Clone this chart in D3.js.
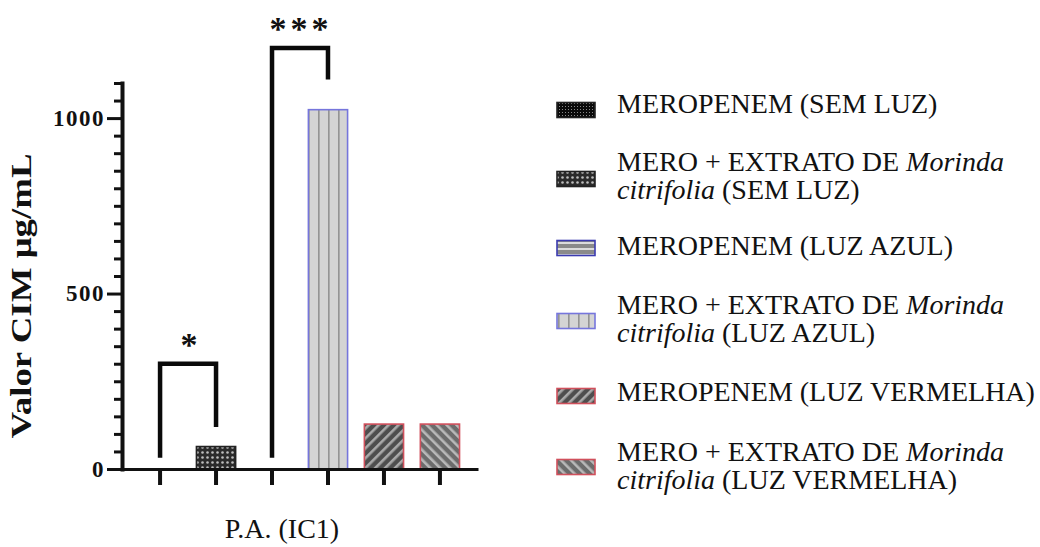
<!DOCTYPE html>
<html><head><meta charset="utf-8">
<script src="https://cdn.jsdelivr.net/npm/d3@7"></script>
<style>body{margin:0;background:#fff}svg{display:block}</style>
</head><body><svg id="c" width="1040" height="547"></svg>
<script>
// ---------------- data ----------------
const categories = ["MEROPENEM (SEM LUZ)", "MERO + EXTRATO (SEM LUZ)", "MEROPENEM (LUZ AZUL)",
  "MERO + EXTRATO (LUZ AZUL)", "MEROPENEM (LUZ VERMELHA)", "MERO + EXTRATO (LUZ VERMELHA)"];
const values = [0, 64, 0, 1024, 128, 128];
const yMajorTicks = [0, 500, 1000];
const yMinorTicks = [50,100,150,200,250,300,350,400,450,550,600,650,700,750,800,850,900,950,1050,1100];
const yMax = 1100;
const xTitle = "P.A. (IC1)";
const yTitle = "Valor CIM μg/mL";
const legendLines = [
  [[["MEROPENEM (SEM LUZ)", false]]],
  [[["MERO + EXTRATO DE ", false], ["Morinda", true]], [["citrifolia", true], [" (SEM LUZ)", false]]],
  [[["MEROPENEM (LUZ AZUL)", false]]],
  [[["MERO + EXTRATO DE ", false], ["Morinda", true]], [["citrifolia", true], [" (LUZ AZUL)", false]]],
  [[["MEROPENEM (LUZ VERMELHA)", false]]],
  [[["MERO + EXTRATO DE ", false], ["Morinda", true]], [["citrifolia", true], [" (LUZ VERMELHA)", false]]]
];
const brackets = [
  {from: 0, to: 1, top: 300, leftEnd: 32, rightEnd: 120, label: "*"},
  {from: 2, to: 3, top: 1200, leftEnd: 32, rightEnd: 1110, label: "***"}
];

// ---------------- styles ----------------
const borderColors = ["#222", "#222", "#3b3bb0", "#7676dc", "#d0505c", "#d0505c"];
const serif = "'Liberation Serif','Times New Roman',serif";

const svg = d3.select("#c");
const defs = svg.append("defs");

const x = d3.scaleBand().domain(d3.range(categories.length)).range([122, 478]).paddingInner(0.3).paddingOuter(0.33);
const y = d3.scaleLinear().domain([0, yMax]).range([469, 83]);

// patterns
function pat(id, w, h, bg, transform) {
  const p = defs.append("pattern").attr("id", id).attr("patternUnits", "userSpaceOnUse")
    .attr("width", w).attr("height", h);
  if (transform) p.attr("patternTransform", transform);
  p.append("rect").attr("width", w).attr("height", h).attr("fill", bg);
  return p;
}
let p = pat("p0", 3, 3, "#0a0a0a");
p.append("rect").attr("x", 1).attr("y", 1).attr("width", 1).attr("height", 1).attr("fill", "#888");
p = pat("p1", 5, 5, "#2a2a2a");
p.append("circle").attr("cx", 2.5).attr("cy", 2.5).attr("r", 1.3).attr("fill", "#bdbdbd");
p = pat("p2", 6, 6, "#8a8a8a");
p.append("rect").attr("y", 2).attr("width", 6).attr("height", 2).attr("fill", "#dcdcdc");
p = pat("p3", 10, 10, "#d4d4d4");
p.attr("x", x(3) + 1);
p.append("rect").attr("x", 9).attr("width", 1.6).attr("height", 10).attr("fill", "#6a6a6a");
p = pat("p4", 7, 7, "#4e4e4e", "rotate(45)");
p.append("rect").attr("x", 0).attr("width", 2.6).attr("height", 7).attr("fill", "#aaaaaa");
p = pat("p5", 7, 7, "#6c6c6c", "rotate(-45)");
p.append("rect").attr("x", 0).attr("width", 2.6).attr("height", 7).attr("fill", "#b8b8b8");

// ---------------- bars ----------------
svg.append("g").selectAll("rect").data(values).join("rect")
  .attr("x", (d, i) => x(i)).attr("width", x.bandwidth())
  .attr("y", d => y(d)).attr("height", d => y(0) - y(d))
  .attr("fill", (d, i) => `url(#p${i})`)
  .attr("stroke", (d, i) => d > 0 ? borderColors[i] : "none")
  .attr("stroke-width", 1.6);

// ---------------- axes ----------------
const yAxisMinor = svg.append("g").attr("transform", "translate(122,0)")
  .call(d3.axisLeft(y).tickValues(yMinorTicks).tickSize(8).tickSizeOuter(0).tickFormat(""));
yAxisMinor.select(".domain").remove();
yAxisMinor.selectAll("line").attr("stroke", "#111").attr("stroke-width", 3);

const yAxis = svg.append("g").attr("transform", "translate(122,0)")
  .call(d3.axisLeft(y).tickValues(yMajorTicks).tickSize(15).tickSizeOuter(0).tickPadding(2).tickFormat(d3.format("d")));
yAxis.select(".domain").attr("stroke", "#111").attr("stroke-width", 4).attr("stroke-linecap", "square");
yAxis.selectAll("line").attr("stroke", "#111").attr("stroke-width", 3);
yAxis.selectAll("text").attr("font-family", serif).attr("font-weight", "bold")
  .attr("font-size", 23).attr("letter-spacing", 1.5).attr("fill", "#111");

const xAxis = svg.append("g").attr("transform", `translate(0,${y(0)})`)
  .call(d3.axisBottom(x).tickSize(16).tickSizeOuter(0).tickFormat(""));
xAxis.select(".domain").attr("stroke", "#111").attr("stroke-width", 3);
xAxis.selectAll("line").attr("stroke", "#111").attr("stroke-width", 4);

// ---------------- brackets ----------------
const bx = i => x(i) + x.bandwidth() / 2;
const bg = svg.append("g");
bg.selectAll("path").data(brackets).join("path")
  .attr("d", b => `M${bx(b.from)},${y(b.leftEnd)}V${y(b.top)}H${bx(b.to)}V${y(b.rightEnd)}`)
  .attr("fill", "none").attr("stroke", "#0a0a0a").attr("stroke-width", 4.5);
bg.selectAll("text").data(brackets).join("text")
  .attr("x", b => (bx(b.from) + bx(b.to)) / 2 + 1)
  .attr("y", b => y(b.top) - 8)
  .attr("text-anchor", "middle")
  .attr("font-family", serif).attr("font-weight", "bold").attr("font-size", 34)
  .attr("letter-spacing", b => b.label.length > 1 ? 4 : 0)
  .attr("fill", "#111")
  .text(b => b.label);

// ---------------- titles ----------------
svg.append("text").attr("x", 282).attr("y", 538).attr("text-anchor", "middle")
  .attr("font-family", serif).attr("font-size", 28).attr("fill", "#111").text(xTitle);
svg.append("text").attr("transform", "translate(31,296) rotate(-90)").attr("text-anchor", "middle")
  .attr("font-family", serif).attr("font-weight", "bold").attr("font-size", 29)
  .attr("textLength", 285).attr("lengthAdjust", "spacingAndGlyphs")
  .attr("fill", "#111").text(yTitle);

// ---------------- legend ----------------
const legendSwatchY = [110, 179, 248, 321, 396, 467];
const legendTextY = [104, 176, 246, 319, 392, 466];
const lg = svg.append("g");
legendLines.forEach((lines, i) => {
  const cy = legendSwatchY[i];
  lg.append("rect").attr("x", 557).attr("y", cy - 7.5).attr("width", 38).attr("height", 15)
    .attr("fill", `url(#p${i})`).attr("stroke", borderColors[i]).attr("stroke-width", 1.6);
  const lh = 28;
  const firstBase = legendTextY[i] - (lines.length - 1) * lh / 2 + 9;
  lines.forEach((segs, j) => {
    const t = lg.append("text").attr("x", 617).attr("y", firstBase + j * lh)
      .attr("font-family", serif).attr("font-size", 28).attr("fill", "#111");
    segs.forEach(([s, it]) => t.append("tspan").attr("font-style", it ? "italic" : "normal").text(s));
  });
});
</script></body></html>
